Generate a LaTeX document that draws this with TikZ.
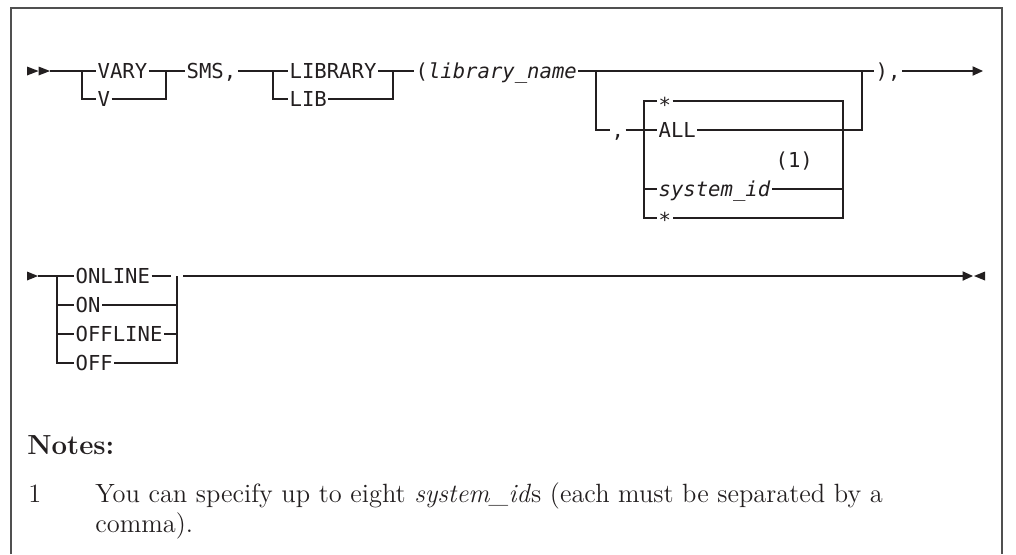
\documentclass[tikz,border=0pt]{standalone}
\usepackage{fontspec}
\usepackage{tikz}
\usetikzlibrary{arrows.meta}
\newfontfamily\synfont{DejaVu Sans Mono}
\definecolor{ink}{HTML}{231F20}
\definecolor{framegray}{HTML}{505050}

\begin{document}
\begin{tikzpicture}[x=0.5pt,y=-0.5pt,
	kw/.style={inner xsep=0.6pt, inner ysep=0pt, text height=7.51pt, text depth=0pt,
		anchor=west, text=ink, font=\synfont\fontsize{10.3pt}{12pt}\selectfont},
	note/.style={inner sep=0pt, anchor=base west, text=ink, font=\fontsize{13.2pt}{16pt}\selectfont},
	rail/.style={draw=ink, line width=0.65pt},
	tip/.style={-{Triangle[length=5.2pt,width=4.6pt]}}]
	\useasboundingbox (0,0) rectangle (1016,554);
	\draw[framegray, line width=1pt] (11,554) -- (11,8) -- (1002,8) -- (1002,554);

	% first line
	\foreach \x in {27,38.5} {
		\fill[ink] (\x,66.5) -- (\x+11.5,71) -- (\x,75.5) -- cycle;
	}
	\coordinate (start1) at (50,71);
	\node[kw] (vary) at (96,71) {VARY};
	\node[kw] (v) at (96,99) {V};
	\node[kw] (sms) at (185,71) {SMS,};
	\node[kw] (library) at (288,71) {LIBRARY};
	\node[kw] (lib) at (288,99) {LIB};
	\node[kw] (libname) at (414,71) {(\textit{library\_name}};
	\node[kw] (comma) at (610,130) {,};
	\node[kw] (star1) at (657,101) {\raisebox{-2pt}{*}};
	\node[kw] (all) at (657,130) {ALL};
	\node[kw] (sysid) at (657,189) {\textit{system\_id}};
	\node[kw] (note1) at (774,160) {(1)};
	\node[kw] (star2) at (657,218) {\raisebox{-1pt}{*}};
	\node[kw] (close) at (874,71) {),};
	\coordinate (a1) at (82,71);
	\coordinate (a2) at (166,71);
	\coordinate (b1) at (273,71);
	\coordinate (b2) at (393,71);
	\coordinate (c1) at (596,71);
	\coordinate (c2) at (862,71);
	\coordinate (d1) at (644,101);
	\coordinate (d2) at (843,101);
	\coordinate (d3) at (644,218);
	\coordinate (d4) at (843,218);
	\coordinate (end1) at (983,71);

	\draw[rail] (start1) -- (vary.west);
	\draw[rail] (a1) |- (v.west);
	\draw[rail] (vary.east) -- (sms.west);
	\draw[rail] (v.east) -| (a2);
	\draw[rail] (sms.east) -- (library.west);
	\draw[rail] (b1) |- (lib.west);
	\draw[rail] (library.east) -- (libname.west);
	\draw[rail] (lib.east) -| (b2);
	\draw[rail] (libname.east) -- (close.west);
	\draw[rail] (c1) |- (comma.west);
	\draw[rail] (comma.east) -- (all.west);
	\draw[rail] (all.east) -| (c2);
	\draw[rail] (star1.west) -- (d1) -- (d3) -- (star2.west);
	\draw[rail] (star1.east) -- (d2) -- (d4) -- (star2.east);
	\draw[rail] (d1 |- sysid) -- (sysid.west);
	\draw[rail] (sysid.east) -- (d2 |- sysid);
	\draw[rail, tip] (close.east) -- (end1);

	% second line
	\fill[ink] (27,271.5) -- (38,276) -- (27,280.5) -- cycle;
	\coordinate (start2) at (38,276);
	\node[kw] (online) at (74,276) {ONLINE};
	\node[kw] (on) at (74,305) {ON};
	\node[kw] (offline) at (74,334) {OFFLINE};
	\node[kw] (off) at (74,363) {OFF};
	\coordinate (f1) at (57,276);
	\coordinate (f2) at (177,276);
	\coordinate (end2) at (973,276);
	\draw[rail] (start2) -- (online.west);
	\draw[rail] (f1) |- (off.west);
	\draw[rail] (f1 |- on) -- (on.west);
	\draw[rail] (f1 |- offline) -- (offline.west);
	\draw[rail] (online.east) -- ([xshift=-3pt]f2);
	\draw[rail] (on.east) -- (f2 |- on);
	\draw[rail] (offline.east) -- (f2 |- offline);
	\draw[rail] (f2) -- (f2 |- off) -- (off.east);
	\draw[rail, tip] ([xshift=3pt]f2) -- (end2);
	\draw[ink, line width=1.1pt] ([xshift=3pt]f2) -- ([xshift=14.5pt]f2);
	\fill[ink] (985,271.5) -- (974,276) -- (985,280.5) -- cycle;

	% notes
	\node[note, font=\bfseries\fontsize{13.8pt}{16pt}\selectfont] (notes) at (27,454) {Notes:};
	\node[note] (num1) at (28,502) {1};
	\node[note] (text1) at (95,502) {You can specify up to eight \textit{system\_id}s (each must be separated by a};
	\node[note] (text2) at (95,532) {comma).};
\end{tikzpicture}
\end{document}
